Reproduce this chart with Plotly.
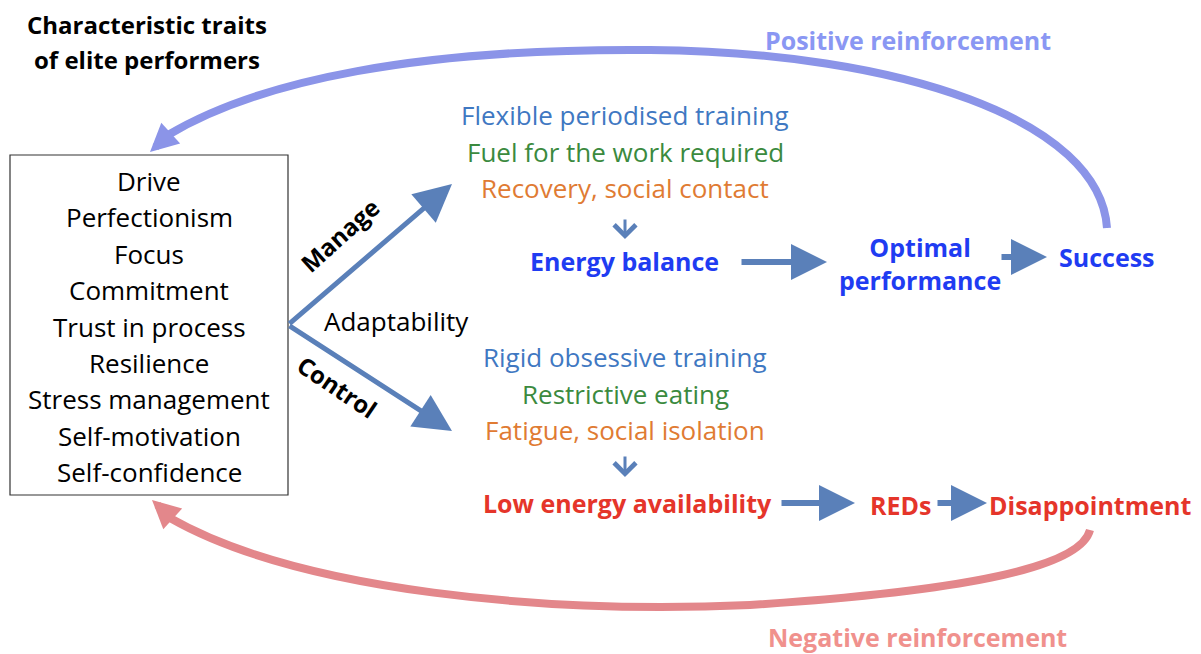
import plotly.graph_objects as go

# canvas in pixel units (y grows downwards); the page body adds an 8px margin
W, H = 1201, 654
OFF = 8

title_lines = ["Characteristic traits", "of elite performers"]
traits = ["Drive", "Perfectionism", "Focus", "Commitment", "Trust in process",
          "Resilience", "Stress management", "Self-motivation", "Self-confidence"]

manage_lines = ["Flexible periodised training", "Fuel for the work required", "Recovery, social contact"]
control_lines = ["Rigid obsessive training", "Restrictive eating", "Fatigue, social isolation"]
line_colors = ["#3f78c2", "#3b8a3e", "#e07b33"]

good_path = ["Energy balance", "Optimal<br>performance", "Success"]
good_x = [624, 920, 1107]
good_y = [261, 263, 257]

bad_path = ["Low energy availability", "REDs", "Disappointment"]
bad_x = [627, 900, 1090]
bad_y = [503, 505, 505]

ARROW = "#5a80b9"
BLUE = "#1f3cf2"
RED = "#e5352a"
POS = "#8b94e8"
NEG = "#e3878b"
FONT = "Open Sans"
FS = 26      # regular text
FB = 25      # bold text

fig = go.Figure()

ann = []
# title
for i, t in enumerate(title_lines):
    ann.append(dict(x=147, y=24 + i * 35, text="<b>%s</b>" % t, showarrow=False,
                    font=dict(size=24, color="black")))

# traits box
fig.add_shape(type="rect", x0=10, y0=155, x1=288, y1=495,
              line=dict(color="#333333", width=1.2), fillcolor="white")
for i, t in enumerate(traits):
    ann.append(dict(x=149, y=181 + i * 36.4, text=t, showarrow=False,
                    font=dict(size=FS, color="black")))

# manage / control branches
ann.append(dict(x=452, y=184, ax=288, ay=325, text="", showarrow=True,
                arrowhead=2, arrowsize=1.5, arrowwidth=5, arrowcolor=ARROW,
                axref="x", ayref="y"))
ann.append(dict(x=452, y=431, ax=288, ay=325, text="", showarrow=True,
                arrowhead=2, arrowsize=1.5, arrowwidth=5, arrowcolor=ARROW,
                axref="x", ayref="y"))
ann.append(dict(x=339, y=235, text="<b>Manage</b>", textangle=-42, showarrow=False,
                font=dict(size=24, color="black")))
ann.append(dict(x=337, y=386, text="<b>Control</b>", textangle=34, showarrow=False,
                font=dict(size=24, color="black")))
ann.append(dict(x=396, y=321, text="Adaptability", showarrow=False,
                font=dict(size=FS, color="black")))

# option lists
for i, t in enumerate(manage_lines):
    ann.append(dict(x=625, y=115 + i * 36.5, text=t, showarrow=False,
                    font=dict(size=FS, color=line_colors[i])))
for i, t in enumerate(control_lines):
    ann.append(dict(x=625, y=357 + i * 36.5, text=t, showarrow=False,
                    font=dict(size=FS, color=line_colors[i])))
for y0, y1 in [(218, 239), (455, 477)]:
    ann.append(dict(x=625, y=y1, ax=625, ay=y0, text="", showarrow=True,
                    arrowhead=4, arrowsize=1.4, arrowwidth=3, arrowcolor=ARROW,
                    axref="x", ayref="y"))

# outcome chains
for i, t in enumerate(good_path):
    ann.append(dict(x=good_x[i], y=good_y[i], text="<b>%s</b>" % t, showarrow=False,
                    font=dict(size=FB, color=BLUE)))
for i, t in enumerate(bad_path):
    ann.append(dict(x=bad_x[i], y=bad_y[i], text="<b>%s</b>" % t, showarrow=False,
                    font=dict(size=FB, color=RED)))

for x0, x1, yy in [(740, 827, 262), (1000, 1047, 257), (780, 855, 503), (936, 987, 503)]:
    ann.append(dict(x=x1, y=yy, ax=x0, ay=yy, text="", showarrow=True,
                    arrowhead=2, arrowsize=1.2, arrowwidth=6, arrowcolor=ARROW,
                    axref="x", ayref="y"))

# reinforcement loops
fig.add_shape(type="path", path="M 1107 228 C 1100 120, 900 52, 650 50 C 420 48, 260 80, 168 135",
              line=dict(color=POS, width=8))
ann.append(dict(x=150, y=152, ax=172, ay=132, text="", showarrow=True,
                arrowhead=2, arrowsize=0.7, arrowwidth=8, arrowcolor=POS,
                axref="x", ayref="y"))
ann.append(dict(x=908, y=40, text="<b>Positive reinforcement</b>", showarrow=False,
                font=dict(size=FB, color="#8a97f3")))

fig.add_shape(type="path", path="M 1090 530 C 1080 570, 950 592, 750 605 C 550 614, 300 592, 170 518",
              line=dict(color=NEG, width=8))
ann.append(dict(x=152, y=500, ax=174, ay=520, text="", showarrow=True,
                arrowhead=2, arrowsize=0.7, arrowwidth=8, arrowcolor=NEG,
                axref="x", ayref="y"))
ann.append(dict(x=917, y=637, text="<b>Negative reinforcement</b>", showarrow=False,
                font=dict(size=FB, color="#f0918d")))

fig.update_layout(
    width=W - OFF, height=H - OFF,
    margin=dict(l=0, r=0, t=0, b=0),
    paper_bgcolor="white", plot_bgcolor="white",
    font=dict(family=FONT),
    xaxis=dict(range=[OFF, W], visible=False, fixedrange=True),
    yaxis=dict(range=[H, OFF], visible=False, fixedrange=True),
    annotations=ann,
    showlegend=False,
)

fig.write_html("out.html")
